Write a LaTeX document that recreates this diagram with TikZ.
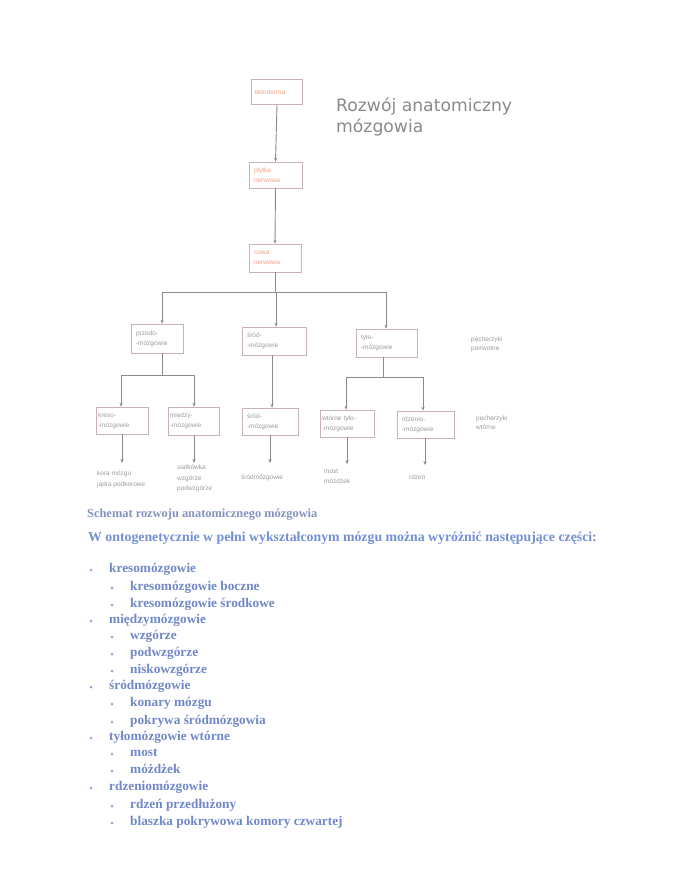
\documentclass[tikz,border=0pt]{standalone}
\usepackage{fontspec}
\setmainfont{Liberation Serif}
\newfontfamily\dvs{DejaVu Sans}
\newfontfamily\lsans{Liberation Sans}
\usetikzlibrary{arrows.meta}
\definecolor{boxline}{HTML}{C8B2B4}
\definecolor{conline}{HTML}{8A8A8A}
\definecolor{orangetxt}{HTML}{F2A487}
\definecolor{graytxt}{HTML}{9C9C9C}
\definecolor{titlegray}{HTML}{8A8A8A}
\definecolor{capblue}{HTML}{8393BE}
\definecolor{headblue}{HTML}{7390D4}
\definecolor{listblue}{HTML}{7088C8}
\tikzset{
  boxnode/.style={draw=boxline, line width=0.6pt, inner xsep=5pt, inner ysep=0pt, align=left,
    font=\lsans\fontsize{6.5}{10}\selectfont, text=graytxt},
  topbox/.style={boxnode, text=orangetxt},
  conn/.style={draw=conline, line width=0.9pt},
  arr/.style={conn, -{Stealth[length=4pt,width=3.2pt]}},
  lbl/.style={inner sep=0pt, anchor=north west, align=left,
    font=\lsans\fontsize{6.5}{10.5}\selectfont, text=graytxt},
  bul/.style={circle, fill=listblue!75, inner sep=0pt, minimum size=3pt},
  itm/.style={anchor=mid west, inner sep=0pt, font=\bfseries\fontsize{13.3}{15}\selectfont, text=listblue}
}
\begin{document}
\begin{tikzpicture}[x=1pt,y=-1pt]
\useasboundingbox[fill=white] (0,0) rectangle (685,887);

% title
\node[anchor=north west, inner sep=0pt, align=left, text=titlegray,
  font=\dvs\fontsize{17.2}{20.5}\selectfont] (title) at (336,98) {Rozwój anatomiczny\\mózgowia};

% boxes
\node[topbox, minimum width=51pt, minimum height=25pt, text width=45pt, inner xsep=3pt] (ekto) at (277,92) {ektoderma};
\node[topbox, minimum width=53pt, minimum height=26pt, text width=43pt] (plytka) at (275.5,175) {płytka\\nerwowa};
\node[topbox, minimum width=52pt, minimum height=28pt, text width=42pt] (cewa) at (275,258) {cewa\\nerwowa};

\node[boxnode, minimum width=52pt, minimum height=29pt, text width=42pt] (przodo) at (157,338.5) {przodo-\\-mózgowie};
\node[boxnode, minimum width=64pt, minimum height=28pt, text width=54pt] (srod1) at (274,341) {śród-\\-mózgowie};
\node[boxnode, minimum width=61pt, minimum height=28pt, text width=51pt] (tylo) at (386.5,343) {tyło-\\-mózgowie};
\node[lbl, font=\lsans\fontsize{6.5}{9}\selectfont] (pierw) at (471,337) {pęcherzyki\\pierwotne};

\node[boxnode, minimum width=52pt, minimum height=27pt, text width=48pt, inner xsep=2pt] (kreso) at (122,420.5) {kreso-\\-mózgowie};
\node[boxnode, minimum width=51pt, minimum height=28pt, text width=47pt, inner xsep=2pt] (miedzy) at (193.5,421) {między-\\-mózgowie};
\node[boxnode, minimum width=56pt, minimum height=27pt, text width=46pt] (srod2) at (270,421.5) {śród-\\-mózgowie};
\node[boxnode, minimum width=54pt, minimum height=27pt, text width=50pt, inner xsep=2pt] (wtorne) at (347,423.5) {wtórne tyło-\\-mózgowie};
\node[boxnode, minimum width=57pt, minimum height=27pt, text width=47pt] (rdzenio) at (425.5,424.5) {rdzenio-\\-mózgowie};
\node[lbl, font=\lsans\fontsize{6.5}{9}\selectfont] (wtor) at (476,416) {pęcherzyki\\wtórne};

% bottom labels
\node[lbl] (kora) at (97,471) {kora mózgu\\jądra podkorowe};
\node[lbl] (siat) at (177,465) {siatkówka\\wzgórze\\podwzgórze};
\node[lbl] (srodl) at (241,475) {śródmózgowie};
\node[lbl] (most) at (324,469) {most\\móżdżek};
\node[lbl] (rdzen) at (409,475) {rdzeń};

% connectors top
\draw[arr] (ekto.south) -- (plytka.north);
\draw[arr] (plytka.south) -- (cewa.north);
\coordinate (h1L) at (162,292);
\coordinate (h1R) at (386,292);
\coordinate (h1M) at (276,292);
\draw[conn] (cewa.south) -- (cewa.south |- h1M);
\draw[conn] (h1L) -- (h1R);
\draw[arr] (h1L) -- (h1L |- przodo.north);
\draw[arr] (h1M) -- (h1M |- srod1.north);
\draw[arr] (h1R) -- (h1R |- tylo.north);

% connectors middle
\coordinate (h2L) at (121,375);
\coordinate (h2R) at (194,375);
\coordinate (h2M) at (162,375);
\draw[conn] (h2M |- przodo.south) -- (h2M);
\draw[conn] (h2L) -- (h2R);
\draw[arr] (h2L) -- (h2L |- kreso.north);
\draw[arr] (h2R) -- (h2R |- miedzy.north);
\coordinate (s2) at (272,341);
\draw[arr] (s2 |- srod1.south) -- (s2 |- srod2.north);
\coordinate (h3L) at (346,377);
\coordinate (h3R) at (423,377);
\coordinate (h3M) at (383,377);
\draw[conn] (h3M |- tylo.south) -- (h3M);
\draw[conn] (h3L) -- (h3R);
\draw[arr] (h3L) -- (h3L |- wtorne.north);
\draw[arr] (h3R) -- (h3R |- rdzenio.north);

% connectors bottom
\coordinate (e1) at (122,463);
\coordinate (e2) at (194,463);
\coordinate (e3) at (270,463);
\coordinate (e4) at (347,464);
\coordinate (e5) at (425,465);
\draw[arr] (e1 |- kreso.south) -- (e1);
\draw[arr] (e2 |- miedzy.south) -- (e2);
\draw[arr] (e3 |- srod2.south) -- (e3);
\draw[arr] (e4 |- wtorne.south) -- (e4);
\draw[arr] (e5 |- rdzenio.south) -- (e5);

% caption and header
\node[anchor=mid west, inner sep=0pt, text=capblue, font=\bfseries\fontsize{12.4}{14}\selectfont] (cap) at (87,515) {Schemat rozwoju anatomicznego mózgowia};
\node[anchor=mid west, inner sep=0pt, text=headblue, font=\bfseries\fontsize{13.8}{15}\selectfont] (head) at (88,539) {W ontogenetycznie w pełni wykształconym mózgu można wyróżnić następujące części:};

% list
\foreach \lv/\yy/\txt [count=\i] in {
 0/570/kresomózgowie,
 1/588/kresomózgowie boczne,
 1/605/kresomózgowie środkowe,
 0/621/międzymózgowie,
 1/637/wzgórze,
 1/654/podwzgórze,
 1/671/niskowzgórze,
 0/687/śródmózgowie,
 1/704/konary mózgu,
 1/722/pokrywa śródmózgowia,
 0/738/tyłomózgowie wtórne,
 1/754/most,
 1/771/móżdżek,
 0/788/rdzeniomózgowie,
 1/806/rdzeń przedłużony,
 1/823/blaszka pokrywowa komory czwartej}{
  \node[bul] (b\i) at ({91+21*\lv}, \yy) {};
  \node[itm] (t\i) at ({109+21*\lv}, \yy) {\txt};
}
\end{tikzpicture}
\end{document}
